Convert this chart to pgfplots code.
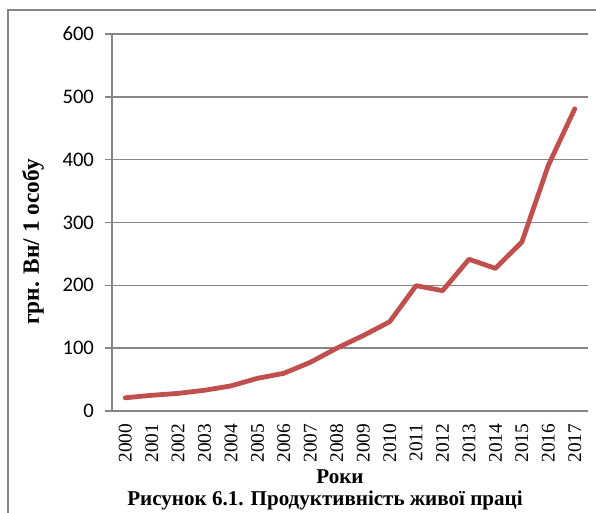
\documentclass[border=0pt]{standalone}
\usepackage{pgfplots}
\pgfplotsset{compat=1.18}
\usepackage{fontspec}
\setmainfont{Liberation Serif}
\newfontfamily\calfont{Carlito}
\definecolor{linered}{HTML}{C0504D}
\definecolor{axgray}{HTML}{868686}
\begin{document}
\begin{tikzpicture}[x=1pt,y=1pt]
\useasboundingbox (-84,-76.5) rectangle (363,308.25);
\draw[axgray,line width=1.5pt] (-78,-80) -- (-78,300.75) -- (370,300.75);
\begin{axis}[
  at={(0,0)}, anchor=south west,
  scale only axis,
  width=357pt, height=282.75pt,
  xmin=-0.5, xmax=17.5, ymin=0, ymax=600,
  axis lines=left,
  axis line style={-, axgray, line width=1pt},
  ytick={0,100,...,600},
  ymajorgrids,
  major grid style={axgray, line width=1pt},
  xtick={0,...,17},
  xticklabels={2000,2001,2002,2003,2004,2005,2006,2007,2008,2009,2010,2011,2012,2013,2014,2015,2016,2017},
  minor xtick={-0.5,0.5,...,17.5},
  xtick style={draw=none},
  minor x tick style={axgray, line width=0.8pt},
  minor tick length=4pt,
  ytick style={axgray, line width=1pt},
  major tick length=5pt,
  tick align=outside,
  x tick label style={rotate=90, anchor=east, font=\fontsize{14.5}{16}\selectfont, yshift=0pt, xshift=-1pt},
  y tick label style={font=\calfont\fontsize{15.5}{17}\selectfont, xshift=-5pt},
  /pgf/number format/assume math mode=true,
  clip=false,
]
\addplot[linered, line width=3.6pt, line join=round, line cap=round] coordinates {
(0,21) (1,25) (2,28) (3,33) (4,40) (5,52) (6,60) (7,77.5) (8,100) (9,120)
(10,142) (11,199.5) (12,191.5) (13,241.5) (14,227) (15,269) (16,391) (17,481)
};
\end{axis}
\node[font=\bfseries\fontsize{17.5}{20}\selectfont, rotate=90] at ({(33-112)*0.75},{(411-242)*0.75}) {грн. Вн/ 1 особу};
\node[font=\bfseries\fontsize{15.8}{18}\selectfont] at ({(340-112)*0.75},{(411-477)*0.75}) {Роки};
\node[font=\bfseries\fontsize{15.8}{18}\selectfont] at ({(325-112)*0.75},{(411-500)*0.75}) {Рисунок 6.1. Продуктивність живої праці};
\end{tikzpicture}
\end{document}
